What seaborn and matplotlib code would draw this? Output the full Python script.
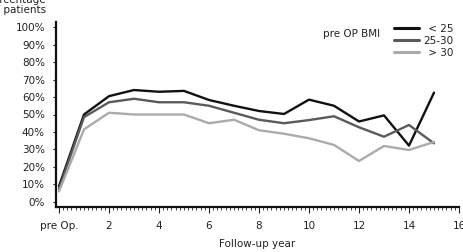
import numpy as np
import pandas as pd
import seaborn as sns
from matplotlib import pyplot as plt
from matplotlib.ticker import MultipleLocator, PercentFormatter

sns.set_style("ticks")
plt.rcParams['font.family'] = ['DejaVu Sans']

# follow-up years (0 = pre Op.)
years = list(range(16))
bmi_under_25 = [9, 50, 60.5, 64, 63, 63.5, 58.3, 55, 52, 50.3, 58.5, 55, 46, 49.5, 32.2, 62.5]
bmi_25_30 = [7.5, 48.5, 57, 59, 57, 57, 55, 51, 47, 45, 46.8, 49, 42.7, 37.3, 44, 33.5]
bmi_over_30 = [6, 41.5, 51, 50, 50, 50, 45, 47, 41, 39, 36.4, 32.6, 23.4, 32, 29.7, 34.3]
groups = ["< 25", "25-30", "> 30"]
colors = ["#111111", "#5a5a5a", "#ababab"]

df = pd.DataFrame({
    "year": years * 3,
    "pct": bmi_under_25 + bmi_25_30 + bmi_over_30,
    "bmi": [groups[0]] * 16 + [groups[1]] * 16 + [groups[2]] * 16,
})

fig = plt.figure(figsize=(4.64, 2.52), dpi=100)
ax = fig.add_axes([56 / 464, 45 / 252, 403 / 464, 185 / 252])

sns.lineplot(data=df, x="year", y="pct", hue="bmi", palette=colors,
             linewidth=1.7, ax=ax, legend=False)

ax.set_xlim(-0.12, 16)
ax.set_ylim(-2.9, 102.9)
ax.set_yticks(np.arange(0, 101, 10))
ax.yaxis.set_major_formatter(PercentFormatter(decimals=0))
ax.set_xticks([0, 2, 4, 6, 8, 10, 12, 14, 16])
ax.set_xticklabels(["pre Op.", "2", "4", "6", "8", "10", "12", "14", "16"])
ax.xaxis.set_minor_locator(MultipleLocator(1 / 6))
ax.tick_params(axis="both", labelsize=7.5, colors="#222222", width=0.8)
ax.tick_params(axis="x", which="major", length=4, pad=6)
ax.tick_params(axis="x", which="minor", length=2, width=0.6)
ax.tick_params(axis="y", length=2, pad=6)
for side in ["top", "right"]:
    ax.spines[side].set_visible(False)
for side in ["left", "bottom"]:
    ax.spines[side].set_linewidth(1.6)
    ax.spines[side].set_color("#111111")
ax.set_xlabel("Follow-up year", fontsize=7.5, color="#222222", labelpad=6)
ax.set_ylabel("")

fig.text(46 / 464, 0.98, "Percentage\nof patients", fontsize=7.5, color="#222222",
         ha="right", va="center", linespacing=1.1)

# legend (en space keeps the labels right-aligned)
handles = [plt.Line2D([], [], color=c, linewidth=2.2) for c in colors]
labels = ["\u2002< 25", "25-30", "\u2002> 30"]
leg = ax.legend(handles, labels, loc="upper left", bbox_to_anchor=(0.838, 0.99),
                frameon=False, fontsize=7.5, handlelength=2.4, handletextpad=0.4,
                labelspacing=0.2, borderaxespad=0, borderpad=0)
for t in leg.get_texts():
    t.set_color("#222222")
fig.text(323 / 464, 1 - 34 / 252, "pre OP BMI", fontsize=7.5, color="#222222",
         va="center")

plt.savefig("out.png", dpi=100)
